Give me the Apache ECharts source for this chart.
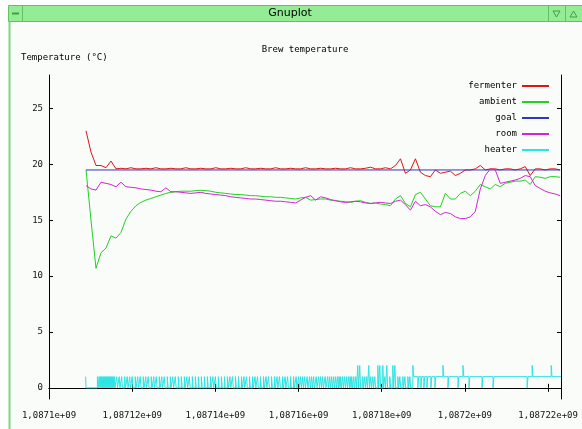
<!DOCTYPE html>
<html><head><meta charset="utf-8">
<script src="https://cdn.jsdelivr.net/npm/echarts@6/dist/echarts.min.js"></script>
<style>html,body{margin:0;padding:0;background:#fff}#main{width:582px;height:429px}</style>
</head><body><div id="main"></div>
<script>
// ---- data ----
const X_TICK_VALUES = [1087100000,1087120000,1087140000,1087160000,1087180000,1087200000,1087220000];
const X_TICK_LABELS = ['1,0871e+09','1,08712e+09','1,08714e+09','1,08716e+09','1,08718e+09','1,0872e+09','1,08722e+09'];
const Y_TICK_VALUES = [0,5,10,15,20,25];
const SERIES_NAMES = ['fermenter','ambient','goal','room','heater'];
const START_TIME = 1087108900;   // first logged sample (s)
const SAMPLE_STEP = 1200;        // logging interval (s)
const fermenter = [
 23.0,21.1,19.9,19.9,19.7,20.3,19.6,19.65,19.6,19.7,
 19.6,19.6,19.65,19.6,19.7,19.6,19.6,19.65,19.6,19.6,
 19.7,19.6,19.6,19.65,19.6,19.6,19.7,19.6,19.6,19.65,
 19.6,19.6,19.7,19.6,19.6,19.65,19.6,19.6,19.7,19.6,
 19.6,19.65,19.6,19.6,19.7,19.6,19.6,19.65,19.6,19.6,
 19.65,19.6,19.6,19.7,19.6,19.6,19.65,19.75,19.6,19.6,
 19.7,19.6,19.9,20.5,19.2,19.5,20.5,19.3,19.0,18.9,
 19.5,19.2,19.3,19.4,19.0,19.2,19.5,19.5,19.6,19.9,
 19.5,19.6,19.6,19.5,19.6,19.6,19.5,19.6,19.8,19.0,
 19.6,19.6,19.5,19.6,19.6,19.5];
const ambient = [
 19.5,15.0,10.7,12.1,12.5,13.6,13.4,13.9,15.1,15.8,
 16.3,16.6,16.8,16.95,17.1,17.25,17.4,17.5,17.55,17.6,
 17.6,17.6,17.65,17.68,17.65,17.6,17.5,17.45,17.4,17.35,
 17.3,17.3,17.25,17.2,17.2,17.15,17.1,17.1,17.05,17.05,
 17.0,16.95,16.9,17.0,17.05,16.8,16.85,16.9,16.9,16.8,
 16.75,16.7,16.65,16.6,16.7,16.75,16.6,16.5,16.55,16.45,
 16.4,16.3,16.9,17.2,16.5,16.2,17.3,17.5,16.9,16.3,
 16.2,16.2,17.4,16.9,16.9,17.4,17.6,17.2,17.6,18.2,
 18.0,17.8,18.2,18.0,18.3,18.4,18.5,18.5,18.6,18.2,
 18.9,18.85,18.75,18.9,18.9,18.85];
const room = [
 18.1,17.8,17.7,18.4,18.3,18.2,18.0,18.4,18.0,17.95,
 17.9,17.8,17.75,17.7,17.6,17.55,17.9,17.55,17.55,17.5,
 17.45,17.4,17.45,17.5,17.4,17.35,17.3,17.25,17.2,17.1,
 17.05,17.0,16.95,16.9,16.9,16.85,16.8,16.75,16.7,16.7,
 16.65,16.6,16.55,16.8,17.05,17.2,16.8,17.1,17.0,16.85,
 16.75,16.65,16.6,16.65,16.7,16.65,16.55,16.5,16.55,16.6,
 16.55,16.5,16.7,16.8,16.4,15.9,16.7,16.3,16.4,16.2,
 15.8,15.5,15.7,15.6,15.3,15.15,15.15,15.3,15.8,17.8,
 19.0,19.6,19.5,18.3,18.4,18.5,18.6,18.75,19.0,18.9,
 18.1,17.85,17.6,17.45,17.35,17.2];
const goalTimes = [1087108900, 1087222900];
const goal = [19.5, 19.5];

// heater: times as seconds after HEATER_T0
const HEATER_T0 = 1087100000;
const HEATER_PULSE = 200;                      // length of one switching pulse (s)
const heaterInitial = [[8800, 1], [8900, 0]];  // [time, level]
const heaterOnPulses = [                       // 0 -> 1 -> 0
 11640,12050,12290,12530,12770,13010,13260,13500,13740,13980,14220,14460,14700,14940,15180,15420,15670,
 16270,16870,17470,18200,18800,19400,20000,20730,21330,21930,22650,23260,23860,24580,25180,25790,
 26510,27110,27720,28440,29160,29760,30370,31090,31810,32540,33140,33740,34460,35190,35910,36630,
 37360,38080,38800,39400,40010,40730,41450,42180,42900,43500,44100,44830,45550,46270,46870,47480,
 48200,48920,49530,50130,50850,51570,52180,52780,53500,54230,54830,55430,56150,56760,57360,58080,
 58800,59410,60010,60490,60970,61460,62060,62660,63140,63620,64230,64830,65310,65790,66400,67000,
 67480,67960,68440,68930,69410,69770,70130,70610,71100,71580,72060,72420,72780,73260,73750,
 75430,75920,76400,77360,77840,78330,80740,81940,83870,84350,85070,85560,86280,86760];
const heaterTallPulses = [                     // 0 -> 2 -> 0
 74230,74710,76880,79050,79530,80250,81220,82660,83150];
const HEATER_IDLE_FROM = 87480;                // level stays at 1 from here on
const heaterHighPulses = [                     // 1 -> 2 -> 1
 87480,94710,99530,116160,120740];
const heaterOffPulses = [                      // 1 -> 0 -> 1
 88690,89410,90130,90860,91820,92790,95920,98330,100980,104110,106760,114960];
const HEATER_END = 123100;

// ---- chart ----
const MONO = '"DejaVu Sans Mono", monospace';
const sampleTimes = fermenter.map((_, i) => START_TIME + i * SAMPLE_STEP);
const pair = (ts, vs) => vs.map((v, i) => [ts[i], v]);

function buildHeater() {
  const ev = heaterInitial.slice();
  const add = (list, level, base) => list.forEach(t => { ev.push([t, level]); ev.push([t + HEATER_PULSE, base]); });
  add(heaterOnPulses, 1, 0);
  add(heaterTallPulses, 2, 0);
  add(heaterHighPulses, 2, 1);
  add(heaterOffPulses, 0, 1);
  ev.push([HEATER_END, 1]);
  ev.sort((a, b) => a[0] - b[0]);
  return ev.map(e => [HEATER_T0 + e[0], e[1]]);
}

const COLORS = ['#e01414', '#22d022', '#3434c4', '#d424d4', '#2ce4e4'];
const X_MIN = 1087100000, X_MAX = 1087223100;

const chart = echarts.init(document.getElementById('main'), null, {renderer: 'canvas', width: 582, height: 429});
const xLabel = v => { const i = X_TICK_VALUES.indexOf(v); return i < 0 ? '' : X_TICK_LABELS[i]; };
const baseX = {type: 'value', min: X_MIN, max: X_MAX, interval: 20000,
  axisLine: {lineStyle: {color: '#000', width: 1}}, splitLine: {show: false},
  axisTick: {inside: true, length: 4, lineStyle: {color: '#000'}}};
const baseY = {type: 'value', min: -1, max: 28,
  axisLine: {show: true, lineStyle: {color: '#000', width: 1}}, splitLine: {show: false},
  axisTick: {show: true, inside: true, length: 4, customValues: Y_TICK_VALUES, lineStyle: {color: '#000'}}};
const line = (name, data, color, extra) => Object.assign({
  name, type: 'line', data, showSymbol: false, symbol: 'none', color,
  lineStyle: {width: 1, color}, animation: false}, extra || {});

chart.setOption({
  backgroundColor: '#f9fcf9',
  animation: false,
  grid: {left: 49, right: 21, top: 75, bottom: 30, containLabel: false},
  xAxis: [
    Object.assign({}, baseX, {position: 'bottom',
      axisLabel: {formatter: xLabel, fontFamily: MONO, fontSize: 9, color: '#111', margin: 12, showMaxLabel: false}}),
    Object.assign({}, baseX, {position: 'top', axisLabel: {show: false}})
  ],
  yAxis: [
    Object.assign({}, baseY, {position: 'left',
      axisLabel: {customValues: Y_TICK_VALUES, fontFamily: MONO, fontSize: 9, color: '#111', margin: 6}}),
    Object.assign({}, baseY, {position: 'right', axisLabel: {show: false}})
  ],
  legend: {
    data: SERIES_NAMES, orient: 'vertical', align: 'right', right: 32, top: 80.5, padding: 0,
    itemWidth: 27, itemHeight: 11, itemGap: 5,
    itemStyle: {opacity: 0},
    textStyle: {fontFamily: MONO, fontSize: 9, color: '#000', lineHeight: 11}
  },
  graphic: [
    {type: 'rect', shape: {x: 0, y: 0, width: 582, height: 5}, style: {fill: '#ffffff'}, z: -5, silent: true},
    {type: 'rect', shape: {x: 0, y: 0, width: 9, height: 429}, style: {fill: '#ffffff'}, z: -5, silent: true},
    {type: 'line', shape: {x1: 9.5, y1: 22, x2: 9.5, y2: 429}, style: {stroke: '#7ed67e', lineWidth: 2}, silent: true},
    {type: 'rect', shape: {x: 8.5, y: 5.5, width: 575, height: 16}, style: {fill: '#94ec94', stroke: '#62c262', lineWidth: 1}, silent: true},
    {type: 'line', shape: {x1: 22.5, y1: 6, x2: 22.5, y2: 21}, style: {stroke: '#62c262', lineWidth: 1}, silent: true},
    {type: 'line', shape: {x1: 12, y1: 13.5, x2: 19, y2: 13.5}, style: {stroke: '#4a9a4a', lineWidth: 2}, silent: true},
    {type: 'line', shape: {x1: 548.5, y1: 6, x2: 548.5, y2: 21}, style: {stroke: '#62c262', lineWidth: 1}, silent: true},
    {type: 'line', shape: {x1: 565.5, y1: 6, x2: 565.5, y2: 21}, style: {stroke: '#62c262', lineWidth: 1}, silent: true},
    {type: 'polygon', shape: {points: [[553, 11], [560, 11], [556.5, 17]]}, style: {fill: 'none', stroke: '#4a9a4a'}, silent: true},
    {type: 'polygon', shape: {points: [[570, 17], [577, 17], [573.5, 11]]}, style: {fill: 'none', stroke: '#4a9a4a'}, silent: true},
    {type: 'text', x: 290, y: 13.5, style: {text: 'Gnuplot', fontFamily: '"DejaVu Sans", sans-serif', fontSize: 11, fill: '#000', textAlign: 'center', textVerticalAlign: 'middle'}, silent: true},
    {type: 'text', x: 305, y: 50, style: {text: 'Brew temperature', fontFamily: MONO, fontSize: 9, fill: '#000', textAlign: 'center', textVerticalAlign: 'middle'}, silent: true},
    {type: 'text', x: 21, y: 58, style: {text: 'Temperature (\u00b0C)', fontFamily: MONO, fontSize: 9, fill: '#000', textAlign: 'left', textVerticalAlign: 'middle'}, silent: true}
  ],
  series: [
    line('fermenter', pair(sampleTimes, fermenter), COLORS[0]),
    line('ambient', pair(sampleTimes, ambient), COLORS[1]),
    line('goal', pair(goalTimes, goal), COLORS[2]),
    line('room', pair(sampleTimes, room), COLORS[3]),
    line('heater', buildHeater(), COLORS[4], {step: 'end'})
  ]
});
</script></body></html>
